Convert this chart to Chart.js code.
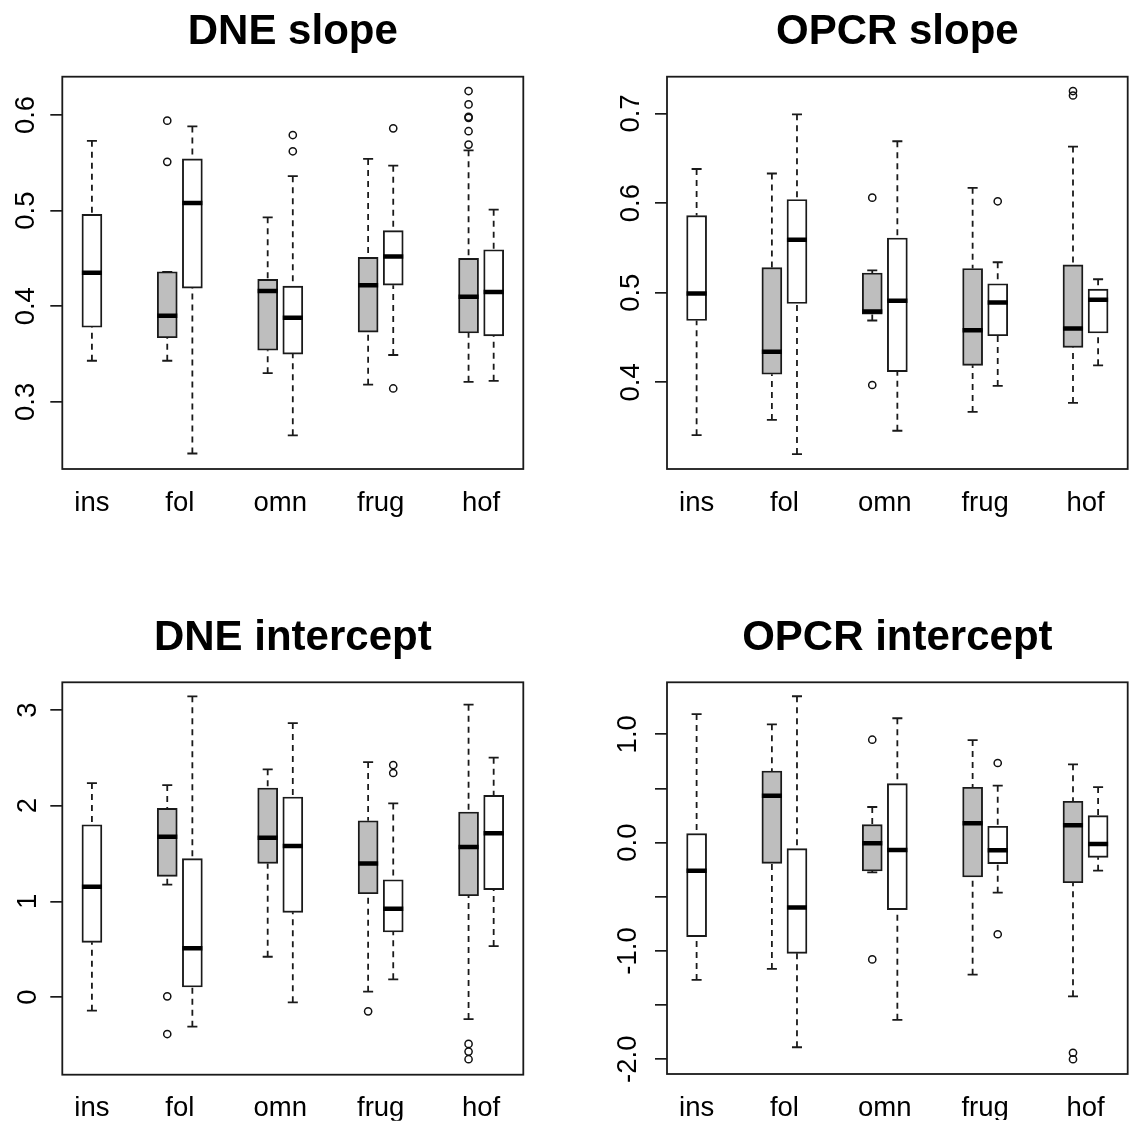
<!DOCTYPE html>
<html>
<head>
<meta charset="utf-8">
<script src="https://cdn.jsdelivr.net/npm/chart.js@4.4.1/dist/chart.umd.min.js"></script>
<style>
  html, body { margin: 0; padding: 0; background: #fff; }
  body { width: 1134px; height: 1121px; position: relative; overflow: hidden; }
  canvas { position: absolute; }
</style>
</head>
<body>
<canvas id="dneSlope" width="567" height="560" style="left:0;top:0"></canvas>
<canvas id="opcrSlope" width="567" height="560" style="left:567px;top:0"></canvas>
<canvas id="dneIntercept" width="567" height="515" style="left:0;top:606px"></canvas>
<canvas id="opcrIntercept" width="567" height="515" style="left:567px;top:606px"></canvas>
<script>
const groups = ["ins", "fol", "omn", "frug", "hof"];
const groupPos = [1.125, 2, 3, 4, 5];
// ins has one box, the other groups a grey / white pair
const boxPos = [1.125, 1.875, 2.125, 2.875, 3.125, 3.875, 4.125, 4.875, 5.125];

// each row: [lower whisker, Q1, median, Q3, upper whisker]
const dneSlope = [
  [0.343, 0.378, 0.435, 0.496, 0.573],
  [0.343, 0.367, 0.390, 0.436, 0.436],
  [0.246, 0.419, 0.508, 0.554, 0.588],
  [0.330, 0.354, 0.416, 0.428, 0.493],
  [0.265, 0.350, 0.388, 0.421, 0.536],
  [0.318, 0.373, 0.422, 0.451, 0.554],
  [0.349, 0.422, 0.452, 0.479, 0.547],
  [0.321, 0.372, 0.410, 0.450, 0.563],
  [0.322, 0.369, 0.415, 0.459, 0.501]
];
const dneSlopeOut = [[], [0.594, 0.551], [], [], [0.579, 0.562], [], [0.586, 0.314],
  [0.625, 0.611, 0.598, 0.597, 0.583, 0.569], []];

const opcrSlope = [
  [0.341, 0.469, 0.499, 0.586, 0.638],
  [0.358, 0.409, 0.434, 0.528, 0.633],
  [0.320, 0.488, 0.559, 0.604, 0.699],
  [0.469, 0.476, 0.479, 0.522, 0.525],
  [0.346, 0.412, 0.491, 0.561, 0.669],
  [0.367, 0.419, 0.458, 0.527, 0.617],
  [0.396, 0.452, 0.489, 0.510, 0.534],
  [0.377, 0.439, 0.460, 0.531, 0.663],
  [0.419, 0.455, 0.492, 0.504, 0.515]
];
const opcrSlopeOut = [[], [], [], [0.606, 0.397], [], [], [0.602], [0.725, 0.720], []];

const dneIntercept = [
  [-0.143, 0.572, 1.153, 1.801, 2.237],
  [1.174, 1.262, 1.676, 1.972, 2.216],
  [-0.310, 0.105, 0.509, 1.446, 3.143],
  [0.421, 1.397, 1.665, 2.185, 2.380],
  [-0.055, 0.885, 1.578, 2.091, 2.864],
  [0.056, 1.080, 1.397, 1.843, 2.456],
  [0.185, 0.680, 0.923, 1.226, 2.024],
  [-0.230, 1.059, 1.568, 1.934, 3.056],
  [0.533, 1.122, 1.711, 2.108, 2.502]
];
const dneInterceptOut = [[], [0.007, -0.387], [], [], [], [-0.150], [2.425, 2.342],
  [-0.49, -0.57, -0.65], []];

const opcrIntercept = [
  [-1.268, -0.868, -0.259, 0.083, 1.187],
  [-1.166, -0.191, 0.433, 0.661, 1.092],
  [-1.889, -1.022, -0.600, -0.056, 1.351],
  [-0.274, -0.262, -0.005, 0.166, 0.329],
  [-1.636, -0.619, -0.068, 0.544, 1.148],
  [-1.219, -0.317, 0.178, 0.511, 0.947],
  [-0.462, -0.194, -0.071, 0.151, 0.526],
  [-1.419, -0.370, 0.160, 0.382, 0.723],
  [-0.259, -0.136, -0.013, 0.249, 0.513]
];
const opcrInterceptOut = [[], [], [], [0.950, -1.078], [], [], [0.735, -0.846], [-1.94, -2.00], []];

const FONT = "'Liberation Sans', Arial, sans-serif";
const HALF = 0.1;   // half box width in x units
const CAP = 0.05;   // half staple width

// draws the box round the plot region, like R's box()
const frame = {
  id: "frame",
  afterDatasetsDraw(chart) {
    const {ctx, chartArea: a} = chart;
    ctx.save();
    ctx.strokeStyle = "#1a1a1a";
    ctx.lineWidth = 1.8;
    ctx.strokeRect(a.left, a.top, a.right - a.left, a.bottom - a.top);
    ctx.restore();
  }
};

const boxPanel = (id, title, stats, outliers, yAxis, pad) => {
  const bars = stats.map((s, i) => ({x: boxPos[i], y: [s[1], s[3]]}));
  const whiskers = [], caps = [], medians = [], points = [];
  stats.forEach((s, i) => {
    const x = boxPos[i];
    whiskers.push({x, y: s[4]}, {x, y: s[3]}, {x, y: null}, {x, y: s[0]}, {x, y: s[1]}, {x, y: null});
    caps.push({x: x - CAP, y: s[4]}, {x: x + CAP, y: s[4]}, {x, y: null},
              {x: x - CAP, y: s[0]}, {x: x + CAP, y: s[0]}, {x, y: null});
    medians.push({x: x - HALF, y: s[2]}, {x: x + HALF, y: s[2]}, {x, y: null});
  });
  outliers.forEach((list, i) => list.forEach(v => points.push({x: boxPos[i], y: v})));

  return new Chart(id, {
    type: "bar",
    data: {
      datasets: [
        {type: "line", data: whiskers, order: 4, borderColor: "#1a1a1a", borderWidth: 1.8,
          borderDash: [6, 5], pointRadius: 0, spanGaps: false},
        {type: "line", data: caps, order: 3, borderColor: "#1a1a1a", borderWidth: 1.8,
          pointRadius: 0, spanGaps: false},
        {data: bars, order: 2, barThickness: 20, grouped: false, borderSkipped: false,
          borderColor: "#1a1a1a", borderWidth: 1.9,
          backgroundColor: boxPos.map((_, i) => i % 2 === 1 ? "#bebebe" : "#ffffff")},
        {type: "line", data: medians, order: 1, borderColor: "#000", borderWidth: 4.5,
          borderCapStyle: "butt", pointRadius: 0, spanGaps: false},
        {type: "scatter", data: points, order: 0, pointStyle: "circle", pointRadius: 3.6,
          borderWidth: 1.5, borderColor: "#111", backgroundColor: "rgba(0,0,0,0)"}
      ]
    },
    plugins: [frame],
    options: {
      responsive: false,
      animation: false,
      events: [],
      layout: {padding: pad.layout},
      plugins: {
        legend: {display: false},
        tooltip: {enabled: false},
        title: {
          display: true, text: title, fullSize: false, color: "#000",
          font: {family: FONT, size: 42, weight: "bold"},
          padding: {top: 7, bottom: pad.titleBottom}
        }
      },
      scales: {
        x: {
          type: "linear", offset: false, min: 0.83, max: 5.42,
          afterBuildTicks: s => { s.ticks = groupPos.map(v => ({value: v})); },
          afterFit: s => { s.height = pad.xHeight; },
          grid: {display: false, drawTicks: false},
          border: {display: false},
          ticks: {autoSkip: false, maxRotation: 0, padding: 17.6, color: "#000",
            font: {family: FONT, size: 27.5}, callback: (v, i) => groups[i]}
        },
        y: {
          min: yAxis.min, max: yAxis.max,
          afterFit: s => { s.width = 60; },
          grid: {drawOnChartArea: false, tickLength: 12, color: "#1a1a1a", lineWidth: 1.7},
          border: {display: false},
          ticks: {stepSize: yAxis.step, includeBounds: false, minRotation: 90, maxRotation: 90,
            crossAlign: "center", padding: pad.yLabel, color: "#000",
            font: {family: FONT, size: 27.5}, callback: yAxis.fmt}
        }
      }
    }
  });
};

const oneDecimal = v => v.toFixed(1);
const wholeOnly = v => Math.abs(v - Math.round(v)) < 1e-6 ? v.toFixed(1) : "";

boxPanel("dneSlope", "DNE slope", dneSlope, dneSlopeOut,
  {min: 0.2298, max: 0.640, step: 0.1, fmt: oneDecimal},
  {layout: {left: 2.3, right: 43.7, top: 0, bottom: 31}, titleBottom: 19.3, xHeight: 60, yLabel: 5});

boxPanel("opcrSlope", "OPCR slope", opcrSlope, opcrSlopeOut,
  {min: 0.3033, max: 0.741, step: 0.1, fmt: oneDecimal},
  {layout: {left: 40, right: 6.3, top: 0, bottom: 31}, titleBottom: 19.3, xHeight: 60, yLabel: 4.5});

boxPanel("dneIntercept", "DNE intercept", dneIntercept, dneInterceptOut,
  {min: -0.812, max: 3.29, step: 1, fmt: v => String(Math.round(v))},
  {layout: {left: 2.3, right: 43.7, top: 0, bottom: 0.3}, titleBottom: 18.9, xHeight: 46, yLabel: 14});

boxPanel("opcrIntercept", "OPCR intercept", opcrIntercept, opcrInterceptOut,
  {min: -2.136, max: 1.48, step: 0.5, fmt: wholeOnly},
  {layout: {left: 40, right: 6.3, top: 0, bottom: 1}, titleBottom: 18.9, xHeight: 46, yLabel: 2.5});
</script>
</body>
</html>
